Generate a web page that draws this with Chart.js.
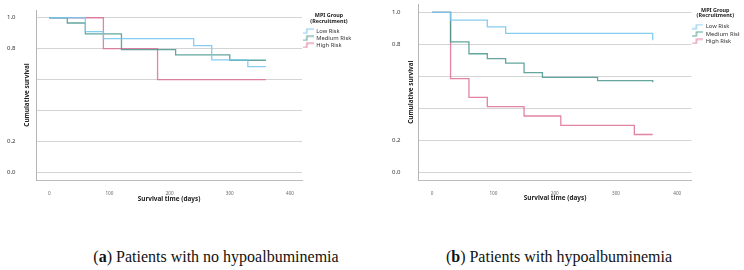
<!DOCTYPE html>
<html><head><meta charset="utf-8">
<script src="https://cdn.jsdelivr.net/npm/chart.js@4/dist/chart.umd.min.js"></script>
<style>
html,body{margin:0;padding:0;background:#fff;width:744px;height:270px;overflow:hidden}
canvas{position:absolute;top:0}
.cap{position:absolute;top:248px;font-family:'Liberation Serif','DejaVu Serif',serif;font-size:16px;color:#111;white-space:nowrap;transform:translateX(-50%)}
</style></head><body>
<canvas id="ca" width="372" height="210" style="left:0"></canvas>
<canvas id="cb" width="372" height="210" style="left:372px"></canvas>
<div class="cap" style="left:216px">(<b>a</b>) Patients with no hypoalbuminemia</div>
<div class="cap" style="left:559px">(<b>b</b>) Patients with hypoalbuminemia</div>
<script>
// ---- data ----
const seriesNames = ['Low Risk', 'Medium Risk', 'High Risk'];
const legendTitle = ['MPI Group', '(Recruitment)'];
const xTitle = 'Survival time (days)';
const yTitle = 'Cumulative survival';
const xTickValues = [0, 100, 200, 300, 400];
const xTickLabels = ['0', '100', '200', '300', '400'];
const yTickValues = [0, 0.2, 0.4, 0.6, 0.8, 1.0];
const yTickLabels = ['0.0', '0.2', '', '', '0.8', '1.0'];

// Panel (a): no hypoalbuminemia
const aLowDays  = [0, 60, 90, 240, 270, 330, 360];
const aLowSurv  = [1, 0.91, 0.865, 0.82, 0.727, 0.683, 0.683];
const aMedDays  = [0, 30, 60, 120, 210, 300, 360];
const aMedSurv  = [1, 0.966, 0.895, 0.793, 0.76, 0.725, 0.725];
const aHighDays = [0, 90, 180, 360];
const aHighSurv = [1, 0.8, 0.6, 0.6];

// Panel (b): hypoalbuminemia
const bLowDays  = [0, 30, 90, 120, 360];
const bLowSurv  = [1, 0.952, 0.909, 0.868, 0.826];
const bMedDays  = [0, 30, 60, 90, 120, 150, 180, 270, 360];
const bMedSurv  = [1, 0.815, 0.741, 0.71, 0.682, 0.622, 0.593, 0.573, 0.562];
const bHighDays = [0, 30, 60, 90, 150, 210, 330, 360];
const bHighSurv = [1, 0.585, 0.468, 0.41, 0.351, 0.292, 0.235, 0.235];

// ---- styling ----
const FONT = "'Noto Sans', 'Open Sans', sans-serif";
const colors = ['rgba(120,200,240,0.9)', 'rgba(70,150,140,0.85)', 'rgba(220,110,150,0.85)'];

function stepIcon(color) {
  const c = document.createElement('canvas');
  c.width = 11; c.height = 6;
  const g = c.getContext('2d');
  g.strokeStyle = color; g.lineWidth = 1.2;
  g.beginPath(); g.moveTo(0, 5); g.lineTo(4, 5); g.lineTo(4, 1); g.lineTo(11, 1); g.stroke();
  return c;
}
const icons = colors.map(stepIcon);

function makeChart(id, series, cfg) {
  const datasets = series.map((s, i) => ({
    label: seriesNames[i],
    data: s[0].map((d, k) => ({x: d, y: s[1][k]})),
    borderColor: colors[i], borderWidth: 1.3, stepped: true,
    pointRadius: 0, fill: false
  }));
  return new Chart(document.getElementById(id), {
    type: 'line',
    data: {datasets},
    options: {
      responsive: false, animation: false, devicePixelRatio: 1,
      layout: {padding: {left: cfg.padLeft, right: cfg.padRight, top: cfg.top, bottom: 0}},
      plugins: {
        tooltip: {enabled: false},
        legend: {
          position: 'right', align: 'start', maxWidth: cfg.legendW,
          title: {display: true, text: legendTitle, color: '#222',
            font: {family: FONT, size: 5.4, weight: 'bold', lineHeight: 1.05},
            padding: {top: cfg.ltTop, bottom: cfg.ltBottom}},
          labels: {
            usePointStyle: true, pointStyleWidth: 10, padding: cfg.itemPad,
            font: {family: FONT, size: 5.8}, color: '#333',
            generateLabels: chart => chart.data.datasets.map((ds, i) => ({
              text: ds.label, pointStyle: icons[i], fillStyle: colors[i], strokeStyle: colors[i],
              fontColor: '#333', lineWidth: 0, hidden: false, datasetIndex: i
            }))
          }
        }
      },
      scales: {
        x: {
          type: 'linear', min: -22, max: cfg.xMax,
          afterBuildTicks: s => { s.ticks = xTickValues.map(v => ({value: v})); },
          afterFit: s => { s.height = 30; },
          ticks: {callback: v => xTickLabels[xTickValues.indexOf(v)], font: {family: FONT, size: 4.6}, color: '#666', padding: 3, maxRotation: 0, autoSkip: false},
          grid: {display: false},
          border: {display: true, color: '#bdbdbd', width: 1},
          title: {display: true, text: xTitle, color: '#222', font: {family: FONT, size: 6.4, weight: 'bold'}, padding: {top: 0, bottom: cfg.xtBottom}}
        },
        y: {
          type: 'linear', min: -0.05, max: 1.05,
          afterBuildTicks: s => { s.ticks = yTickValues.map(v => ({value: v})); },
          afterFit: s => { s.width = cfg.yW; },
          ticks: {callback: v => yTickLabels[yTickValues.indexOf(v)], crossAlign: 'far', padding: 0, font: {family: FONT, size: 6}, color: '#333', autoSkip: false},
          grid: {color: '#d4d4d4', drawTicks: false, lineWidth: 1},
          border: {display: true, color: '#b5b5b5', width: 1},
          title: {display: true, text: yTitle, color: '#222', font: {family: FONT, size: 6.4, weight: 'bold'}, padding: {top: cfg.ytTop, bottom: 0}}
        }
      }
    }
  });
}

makeChart('ca', [[aLowDays, aLowSurv], [aMedDays, aMedSurv], [aHighDays, aHighSurv]],
  {padLeft: 7, yW: 29, ytTop: 16.2, padRight: 16, legendW: 54, top: 10, xMax: 420,
   ltTop: 2.7, ltBottom: 8.6, itemPad: 1.3, xtBottom: 7.2});
makeChart('cb', [[bLowDays, bLowSurv], [bMedDays, bMedSurv], [bHighDays, bHighSurv]],
  {padLeft: 20, yW: 26.7, ytTop: 15.5, padRight: 4.7, legendW: 48, top: 4.4, xMax: 423,
   ltTop: 3, ltBottom: 9, itemPad: 1.6, xtBottom: 8.2});
</script>
</body></html>
